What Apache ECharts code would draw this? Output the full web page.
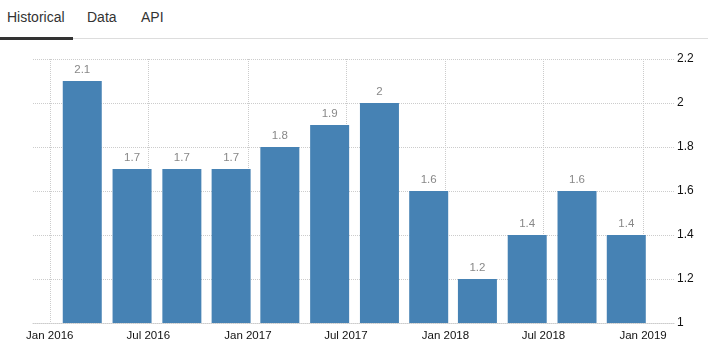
<!DOCTYPE html>
<html>
<head>
<meta charset="utf-8">
<script src="https://cdn.jsdelivr.net/npm/echarts@6/dist/echarts.min.js"></script>
<style>
  html, body { margin: 0; padding: 0; background: #fff; width: 708px; height: 362px; overflow: hidden; }
  #tabs { position: absolute; left: 0; top: 0; width: 708px; height: 40px; font-family: "Liberation Sans", Arial, sans-serif; font-size: 14px; color: #333; }
  #tabs .t { position: absolute; top: 9px; }
  #tabs .line { position: absolute; left: 0; top: 38px; width: 708px; height: 1px; background: #ddd; }
  #tabs .active { position: absolute; left: 0; top: 37px; width: 73px; height: 3px; background: #333; }
  #chart { position: absolute; left: 0; top: 0; width: 708px; height: 362px; }
</style>
</head>
<body>
<div id="tabs">
  <span class="t" style="left:7px">Historical</span>
  <span class="t" style="left:87px">Data</span>
  <span class="t" style="left:141px">API</span>
  <div class="line"></div>
  <div class="active"></div>
</div>
<div id="chart"></div>
<script>
const dates = ['2016-03-01','2016-06-01','2016-09-01','2016-12-01','2017-03-01','2017-06-01','2017-09-01','2017-12-01','2018-03-01','2018-06-01','2018-09-01','2018-12-01'];
const values = [2.1, 1.7, 1.7, 1.7, 1.8, 1.9, 2, 1.6, 1.2, 1.4, 1.6, 1.4];
const xTicks = ['2016-01-01','2016-07-01','2017-01-01','2017-07-01','2018-01-01','2018-07-01','2019-01-01'];
const yTicks = [1, 1.2, 1.4, 1.6, 1.8, 2, 2.2];
const monthNames = ['Jan','Feb','Mar','Apr','May','Jun','Jul','Aug','Sep','Oct','Nov','Dec'];

const ts = d => Date.UTC(+d.slice(0,4), +d.slice(5,7) - 1, +d.slice(8,10));
const chart = echarts.init(document.getElementById('chart'));
const tickVals = xTicks.map(ts);
chart.setOption({
  animation: false,
  grid: { left: 33, right: 33, top: 59, bottom: 39 },
  xAxis: {
    type: 'value',
    min: ts('2015-12-01'),
    max: ts('2019-03-01'),
    axisLine: { show: true, lineStyle: { color: '#ccc', type: 'dotted' } },
    axisTick: { show: false, customValues: tickVals },
    splitLine: { show: true, lineStyle: { color: '#ccc', type: 'dotted' } },
    axisLabel: {
      customValues: tickVals,
      color: '#111',
      fontFamily: 'Liberation Sans',
      fontSize: 11.5,
      margin: 7,
      formatter: v => { const d = new Date(v); return monthNames[d.getUTCMonth()] + ' ' + d.getUTCFullYear(); }
    }
  },
  yAxis: {
    type: 'value',
    position: 'right',
    min: 1, max: 2.2, interval: 0.2,
    axisLine: { show: false },
    axisTick: { show: false },
    splitLine: { show: true, lineStyle: { color: '#ccc', type: 'dotted' } },
    axisLabel: { color: '#111', fontFamily: 'Liberation Sans', fontSize: 12, margin: 2, formatter: v => String(+v.toFixed(1)) }
  },
  series: [{
    type: 'bar',
    barWidth: 39,
    data: dates.map((d, i) => [ts(d), values[i]]),
    itemStyle: { color: '#4682B4' },
    label: { show: true, position: 'top', distance: 5, color: '#888', fontFamily: 'Liberation Sans', fontSize: 11.5, formatter: p => String(p.value[1]) }
  }]
});
</script>
</body>
</html>
